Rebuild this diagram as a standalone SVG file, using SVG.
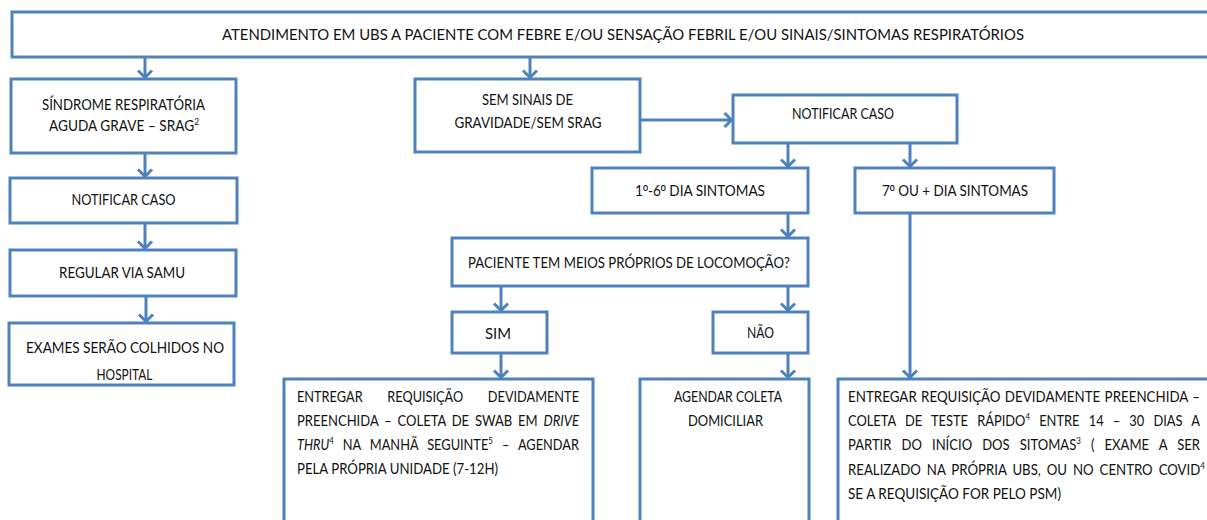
<svg xmlns="http://www.w3.org/2000/svg" width="1207" height="520" viewBox="0 0 1207 520">
<defs>
<style>
.box{fill:#fff;stroke:#4F81BD;stroke-width:3}
.t{font-family:Lato,"Liberation Sans",sans-serif;font-size:15.5px;fill:#111}
.c{text-anchor:middle}
.s{font-size:9.5px}
.i{font-style:italic}
.o{font-family:"Liberation Sans",sans-serif}
.con line{stroke:#4F81BD;stroke-width:3;marker-end:url(#ah)}
</style>
<marker id="ah" markerUnits="userSpaceOnUse" markerWidth="18" markerHeight="18" viewBox="-9 -9 18 18" refX="1.5" refY="0" orient="auto">
<path d="M-7,-7 L0,0 L-7,7" fill="none" stroke="#4F81BD" stroke-width="3"/>
</marker>
</defs>
<rect width="1207" height="520" fill="#fff"/>

<g id="connectors" class="con">
<line x1="145" y1="57" x2="145" y2="79"/>
<line x1="530" y1="57" x2="530" y2="79"/>
<line x1="640" y1="120" x2="733" y2="120"/>
<line x1="788" y1="143" x2="788" y2="168"/>
<line x1="910" y1="143" x2="910" y2="168"/>
<line x1="145" y1="153" x2="145" y2="178"/>
<line x1="145" y1="223" x2="145" y2="250"/>
<line x1="146" y1="296" x2="146" y2="323"/>
<line x1="788" y1="213" x2="788" y2="238"/>
<line x1="501" y1="286" x2="501" y2="312"/>
<line x1="788" y1="286" x2="788" y2="312"/>
<line x1="501" y1="353" x2="501" y2="379"/>
<line x1="788" y1="353" x2="788" y2="379"/>
<line x1="910" y1="213" x2="910" y2="379"/>
</g>

<g id="n-top">
<rect class="box" x="12" y="12" width="1220" height="45"/>
<text class="t c" x="623" y="39.5" textLength="802" lengthAdjust="spacingAndGlyphs">ATENDIMENTO EM UBS A PACIENTE COM FEBRE E/OU SENSAÇÃO FEBRIL E/OU SINAIS/SINTOMAS RESPIRATÓRIOS</text>
</g>

<g id="n-srag">
<rect class="box" x="11" y="79" width="225" height="74"/>
<text class="t c" x="123.5" y="110" textLength="163" lengthAdjust="spacingAndGlyphs">SÍNDROME RESPIRATÓRIA</text>
<text class="t" x="49" y="130.5" textLength="150" lengthAdjust="spacingAndGlyphs">AGUDA GRAVE – SRAG<tspan class="s" dy="-6">2</tspan></text>
</g>

<g id="n-notif-l">
<rect class="box" x="10" y="178" width="227" height="45"/>
<text class="t c" x="123.5" y="204.5" textLength="104" lengthAdjust="spacingAndGlyphs">NOTIFICAR CASO</text>
</g>

<g id="n-samu">
<rect class="box" x="10" y="250" width="226" height="46"/>
<text class="t c" x="122" y="277.5" textLength="126" lengthAdjust="spacingAndGlyphs">REGULAR VIA SAMU</text>
</g>

<g id="n-exames">
<rect class="box" x="9" y="323" width="225" height="62"/>
<text class="t c" x="125" y="352.5" textLength="198" lengthAdjust="spacingAndGlyphs">EXAMES SERÃO COLHIDOS NO</text>
<text class="t c" x="124.5" y="380" textLength="56" lengthAdjust="spacingAndGlyphs">HOSPITAL</text>
</g>

<g id="n-semsinais">
<rect class="box" x="415" y="79" width="225" height="73"/>
<text class="t c" x="527.5" y="104.5" textLength="91" lengthAdjust="spacingAndGlyphs">SEM SINAIS DE</text>
<text class="t c" x="528" y="127.5" textLength="147" lengthAdjust="spacingAndGlyphs">GRAVIDADE/SEM SRAG</text>
</g>

<g id="n-notif-r">
<rect class="box" x="733" y="95" width="224" height="48"/>
<text class="t c" x="843" y="119" textLength="102" lengthAdjust="spacingAndGlyphs">NOTIFICAR CASO</text>
</g>

<g id="n-d16">
<rect class="box" x="592" y="168" width="216" height="45"/>
<text class="t c" x="700" y="195.5" textLength="130" lengthAdjust="spacingAndGlyphs">1<tspan class="o">º</tspan>-6<tspan class="o">º</tspan> DIA SINTOMAS</text>
</g>

<g id="n-d7">
<rect class="box" x="855" y="168" width="199" height="45"/>
<text class="t c" x="955" y="196" textLength="146" lengthAdjust="spacingAndGlyphs">7<tspan class="o">º</tspan> OU + DIA SINTOMAS</text>
</g>

<g id="n-paciente">
<rect class="box" x="452" y="238" width="356" height="48"/>
<text class="t c" x="629" y="267.5" textLength="322" lengthAdjust="spacingAndGlyphs">PACIENTE TEM MEIOS PRÓPRIOS DE LOCOMOÇÃO?</text>
</g>

<g id="n-sim">
<rect class="box" x="452" y="312" width="95" height="41"/>
<text class="t c" x="498" y="338.5" textLength="26" lengthAdjust="spacingAndGlyphs">SIM</text>
</g>

<g id="n-nao">
<rect class="box" x="713" y="312" width="95" height="41"/>
<text class="t c" x="760.5" y="337.5" textLength="27" lengthAdjust="spacingAndGlyphs">NÃO</text>
</g>

<g id="n-drive">
<rect class="box" x="284" y="379" width="309" height="160"/>
<text class="t" x="297" y="401.5" textLength="282" lengthAdjust="spacingAndGlyphs" word-spacing="26">ENTREGAR REQUISIÇÃO DEVIDAMENTE</text>
<text class="t" x="297" y="425.5" textLength="282" lengthAdjust="spacingAndGlyphs" word-spacing="3">PREENCHIDA – COLETA DE SWAB EM <tspan class="i">DRIVE</tspan></text>
<text class="t" x="297" y="449.5" textLength="282" lengthAdjust="spacingAndGlyphs" word-spacing="7"><tspan class="i">THRU</tspan><tspan class="s" dy="-6">4</tspan><tspan dy="6"> NA MANHÃ SEGUINTE</tspan><tspan class="s" dy="-6">5</tspan><tspan dy="6"> – AGENDAR</tspan></text>
<text class="t" x="297" y="473.5" textLength="201" lengthAdjust="spacingAndGlyphs">PELA PRÓPRIA UNIDADE (7-12H)</text>
</g>

<g id="n-agendar">
<rect class="box" x="640" y="379" width="169" height="160"/>
<text class="t c" x="728" y="401.5" textLength="108" lengthAdjust="spacingAndGlyphs">AGENDAR COLETA</text>
<text class="t c" x="725.5" y="425.5" textLength="75" lengthAdjust="spacingAndGlyphs">DOMICILIAR</text>
</g>

<g id="n-rapido">
<rect class="box" x="838" y="379" width="380" height="160"/>
<text class="t" x="848" y="401.5" textLength="352" lengthAdjust="spacingAndGlyphs" word-spacing="1">ENTREGAR REQUISIÇÃO DEVIDAMENTE PREENCHIDA –</text>
<text class="t" x="848" y="425.5" textLength="352" lengthAdjust="spacingAndGlyphs" word-spacing="7">COLETA DE TESTE RÁPIDO<tspan class="s" dy="-6">4</tspan><tspan dy="6"> ENTRE 14 – 30 DIAS A</tspan></text>
<text class="t" x="848" y="450" textLength="352" lengthAdjust="spacingAndGlyphs" word-spacing="8">PARTIR DO INÍCIO DOS SITOMAS<tspan class="s" dy="-6">3</tspan><tspan dy="6"> ( EXAME A SER</tspan></text>
<text class="t" x="848" y="474.5" textLength="357" lengthAdjust="spacingAndGlyphs" word-spacing="3">REALIZADO NA PRÓPRIA UBS, OU NO CENTRO COVID<tspan class="s" dy="-6">4</tspan></text>
<text class="t" x="848" y="498.5" textLength="213" lengthAdjust="spacingAndGlyphs">SE A REQUISIÇÃO FOR PELO PSM)</text>
</g>
</svg>
